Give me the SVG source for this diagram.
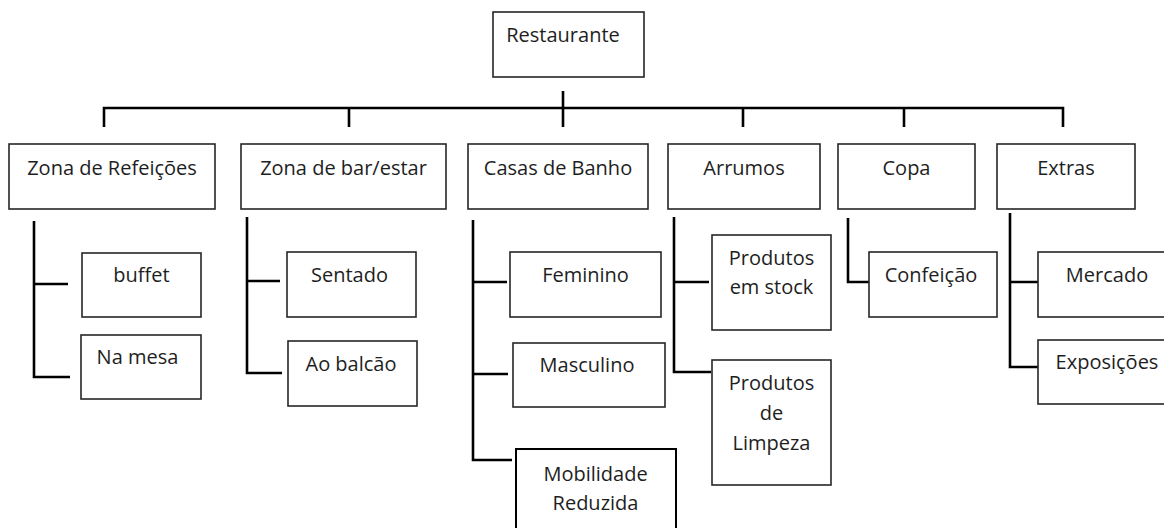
<svg xmlns="http://www.w3.org/2000/svg" width="1164" height="528" viewBox="0 0 1164 528">
<style>
.box{fill:#fff;stroke:#262626;stroke-width:1.6}
.t{font-family:"Open Sans","Noto Sans","Liberation Sans",sans-serif;font-size:20px;fill:#1e1e1e;text-anchor:middle}
.c{fill:none;stroke:#000;stroke-width:2.6;stroke-linecap:butt;stroke-linejoin:miter}
</style>
<rect width="1164" height="528" fill="#fff"/>
<g id="connectors">
<path class="c" d="M563 91V127"/>
<path class="c" d="M104 127V108H1063V127"/>
<path class="c" d="M349 108V127M743 108V127M904 108V127"/>
<path class="c" d="M34 221V377H70M34 284H68"/>
<path class="c" d="M247 217V373H282M247 281H280"/>
<path class="c" d="M473 220V460H512M473 282H507M473 374H508"/>
<path class="c" d="M674 217V372H711M674 282H709"/>
<path class="c" d="M848 218V282H869"/>
<path class="c" d="M1010 213V367H1038M1010 282H1038"/>
</g>
<g id="restaurante"><rect class="box" x="493" y="12" width="151" height="65"/><text class="t" x="563" y="42">Restaurante</text></g>
<g id="zona-refeicoes"><rect class="box" x="9" y="144" width="206" height="65"/><text class="t" x="112" y="175">Zona de Refeições</text></g>
<g id="zona-bar"><rect class="box" x="241" y="144" width="205" height="65"/><text class="t" x="343.5" y="175">Zona de bar/estar</text></g>
<g id="casas-banho"><rect class="box" x="468" y="144" width="180" height="65"/><text class="t" x="558" y="175">Casas de Banho</text></g>
<g id="arrumos"><rect class="box" x="668" y="144" width="152" height="65"/><text class="t" x="744" y="175">Arrumos</text></g>
<g id="copa"><rect class="box" x="838" y="144" width="137" height="65"/><text class="t" x="906.5" y="175">Copa</text></g>
<g id="extras"><rect class="box" x="997" y="144" width="138" height="65"/><text class="t" x="1066" y="175">Extras</text></g>
<g id="buffet"><rect class="box" x="82" y="253" width="119" height="64"/><text class="t" x="141.5" y="282">buffet</text></g>
<g id="na-mesa"><rect class="box" x="81" y="335" width="120" height="64"/><text class="t" x="137.5" y="364">Na mesa</text></g>
<g id="sentado"><rect class="box" x="287" y="252" width="129" height="65"/><text class="t" x="349.5" y="282">Sentado</text></g>
<g id="ao-balcao"><rect class="box" x="288" y="341" width="129" height="65"/><text class="t" x="351" y="371">Ao balcão</text></g>
<g id="feminino"><rect class="box" x="510" y="252" width="151" height="65"/><text class="t" x="585.5" y="282">Feminino</text></g>
<g id="masculino"><rect class="box" x="513" y="343" width="152" height="64"/><text class="t" x="587" y="372">Masculino</text></g>
<g id="mobilidade"><rect class="box" x="516" y="449" width="160" height="100" style="stroke:#000;stroke-width:2"/><text class="t" x="595.5" y="481">Mobilidade</text><text class="t" x="595.5" y="510">Reduzida</text></g>
<g id="produtos-stock"><rect class="box" x="712" y="235" width="119" height="95"/><text class="t" x="771.5" y="265">Produtos</text><text class="t" x="771.5" y="294">em stock</text></g>
<g id="produtos-limpeza"><rect class="box" x="712" y="360" width="119" height="125"/><text class="t" x="771.5" y="390">Produtos</text><text class="t" x="771.5" y="420">de</text><text class="t" x="771.5" y="450">Limpeza</text></g>
<g id="confeicao"><rect class="box" x="869" y="252" width="128" height="65"/><text class="t" x="931" y="282">Confeição</text></g>
<g id="mercado"><rect class="box" x="1038" y="252" width="140" height="65"/><text class="t" x="1107" y="282">Mercado</text></g>
<g id="exposicoes"><rect class="box" x="1038" y="340" width="140" height="64"/><text class="t" x="1107" y="369">Exposições</text></g>
</svg>
